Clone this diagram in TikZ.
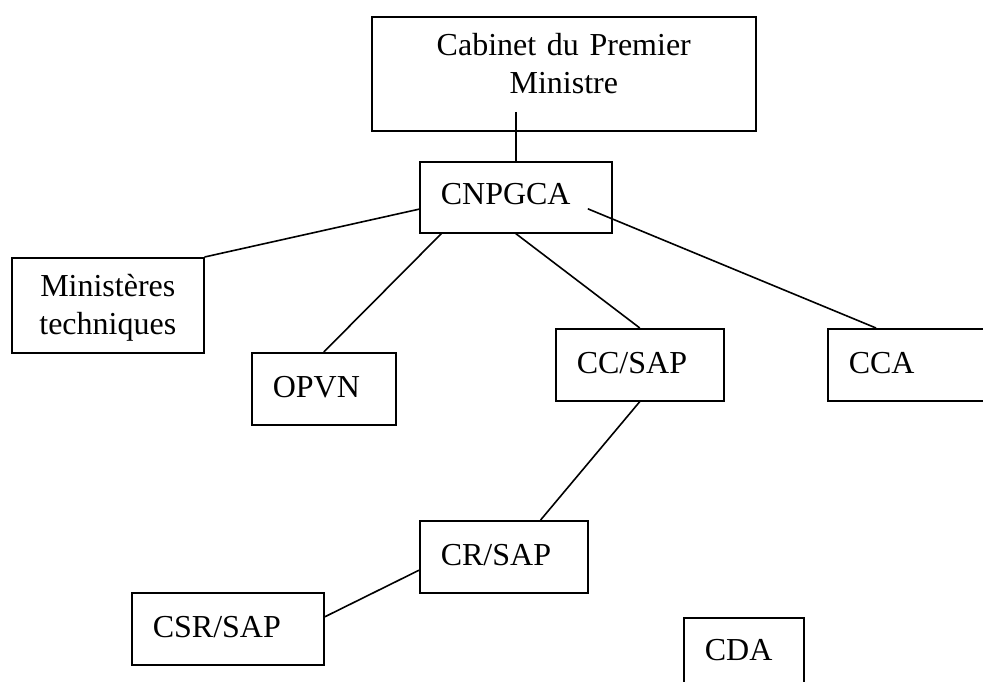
\documentclass[tikz,border=0pt]{standalone}
\usepackage{fontspec}
\setmainfont{Liberation Serif}
\usepackage{tikz}
\usetikzlibrary{
  positioning,
  calc
}
\definecolor{orgInk}{HTML}{000000}
\newcommand{\orgsize}{\fontsize{32pt}{38pt}\selectfont}
\tikzset{
  orgnode/.style={
    draw=orgInk, line width=1.6pt, font=\orgsize, inner ysep=0pt,
    anchor=north west
  },
  orgbox/.style={orgnode, align=left, inner xsep=21pt, text height=45pt, text depth=27pt},
  orgmid/.style={orgnode, align=center, inner xsep=0pt},
  orglink/.style={line width=1.6pt, orgInk}
}
\begin{document}
\begin{tikzpicture}[x=1pt, y=-1pt]
  \clip (0,0) rectangle (983,682);
  \node[orgmid, text width=384pt, text height=39pt, text depth=75pt] (cab) at (371,16) {Cabinet du Premier\\Ministre};
  \node[orgbox, text width=150pt, text height=43pt, text depth=28pt] (cnp) at (419,161) {CNPGCA};
  \node[orgmid, text width=192pt, text height=39pt, text depth=56pt] (min) at (11,257) {Ministères\\techniques};
  \node[orgbox, text width=102pt] (opvn) at (251,352) {OPVN};
  \node[orgbox, text width=126pt] (ccsap) at (555,328) {CC/SAP};
  \node[orgbox, text width=148pt] (cca) at (827,328) {CCA};
  \node[orgbox, text width=126pt] (crsap) at (419,520) {CR/SAP};
  \node[orgbox, text width=150pt] (csrsap) at (131,592) {CSR/SAP};
  \node[orgbox, text width=78pt, text height=43pt, text depth=52pt] (cda) at (683,617) {CDA};
  % line ends that sit inside a box
  \coordinate (cabtail) at ($(cnp.north)+(0,-49)$);
  \coordinate (ccahead) at ($(cnp.center)+(72,11.5)$);
  \coordinate (ccafoot) at ($(cca.north west)+(49,0)$);
  \draw[orglink] (cabtail) -- (cnp.north);
  \draw[orglink] (cnp.187) -- (min.north east); \draw[orglink] (cnp.206) -- (opvn.north);
  \draw[orglink] (cnp.south) -- (ccsap.north); \draw[orglink] (ccahead) -- (ccafoot);
  \draw[orglink] (ccsap.south) -- (crsap.45); \draw[orglink] (crsap.189) -- (csrsap.7);
\end{tikzpicture}
\end{document}
